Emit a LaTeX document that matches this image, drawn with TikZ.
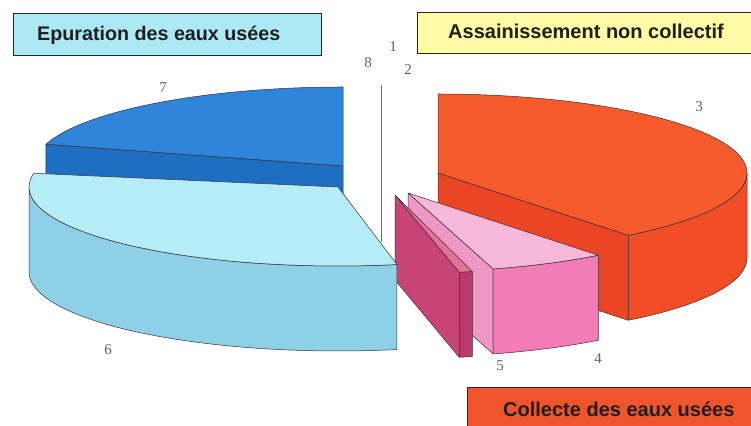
\documentclass[tikz,border=0pt]{standalone}
\usepackage{fontspec}
\setmainfont{Liberation Serif}
\newfontfamily\boxfont{Liberation Sans}
\usetikzlibrary{calc}
\definecolor{bSevTop}{RGB}{46,134,218}
\definecolor{bSevSide}{RGB}{30,110,194}
\definecolor{bSixTop}{RGB}{180,237,245}
\definecolor{bSixSide}{RGB}{142,208,230}
\definecolor{rTop}{RGB}{247,91,44}
\definecolor{rRad}{RGB}{234,70,38}
\definecolor{rOut}{RGB}{241,78,40}
\definecolor{pTop}{RGB}{245,184,217}
\definecolor{pRad}{RGB}{240,152,197}
\definecolor{pOut}{RGB}{241,124,182}
\definecolor{mRad}{RGB}{198,68,120}
\definecolor{mTop}{RGB}{228,114,152}
\definecolor{mOut}{RGB}{186,58,108}
\definecolor{boxBlue}{RGB}{172,233,244}
\definecolor{boxYellow}{RGB}{255,250,165}
\definecolor{boxRed}{RGB}{240,84,44}
\definecolor{edgeC}{RGB}{60,45,50}
\tikzset{
  face/.style={draw=edgeC, line width=0.5pt, line join=round},
  lbox/.style={draw=black!85, line width=1.1pt, rectangle, inner sep=0pt},
  boxtxt/.style={font=\boxfont\bfseries\fontsize{20}{22}\selectfont, text=black!88, inner sep=0pt},
  boxtxtsmall/.style={font=\boxfont\bfseries\fontsize{19.7}{22}\selectfont, text=black!88, inner sep=0pt},
  num/.style={font=\fontsize{15}{18}\selectfont, text=black!62, inner sep=0pt},
  el/.style={x radius=309, y radius=79}
}
\begin{document}
\begin{tikzpicture}[x=1pt,y=1pt]
\useasboundingbox (0,0) rectangle (751,425);
\clip (0,0) rectangle (751,425);
\fill[white] (0,0) rectangle (751,425);

% centres (apex of each slice, top face)
\coordinate (C7) at (343,259);
\coordinate (C6) at (338,238);
\coordinate (C3) at (438,252);
\coordinate (C4) at (408,232);
\coordinate (C5) at (395,230);

% ---- slice 7 (dark blue)
\filldraw[face, fill=bSevSide] (C7) -- ++(164:309 and 79) -- ++(0,-85) -- ($(C7)+(0,-85)$) -- cycle;
\filldraw[face, fill=bSevTop] (C7) -- ++(90:309 and 79) arc[start angle=90, end angle=164, el] -- cycle;

% ---- vertical line (slices 8, 1)
\coordinate (L1) at (381,340);
\coordinate (L2) at (381,183);
\draw[black!55, line width=0.6pt] (L1) -- (L2);

% ---- slice 3 (red)
\filldraw[face, fill=rRad] (C3) -- ++(-52:309 and 79) -- ++(0,-85) -- ($(C3)+(0,-85)$) -- cycle;
\filldraw[face, fill=rOut] (C3) ++(-52:309 and 79) arc[start angle=-52, end angle=0, el] -- ++(0,-85) arc[start angle=0, end angle=-52, el] -- cycle;
\filldraw[face, fill=rTop] (C3) -- ++(-52:309 and 79) arc[start angle=-52, end angle=90, el] -- cycle;

% ---- slice 4 (pink)
\filldraw[face, fill=pRad] (C4) -- ++(-74:309 and 79) -- ++(0,-85) -- ($(C4)+(0,-85)$) -- cycle;
\filldraw[face, fill=pOut] (C4) ++(-74:309 and 79) arc[start angle=-74, end angle=-52, el] -- ++(0,-85) arc[start angle=-52, end angle=-74, el] -- cycle;
\filldraw[face, fill=pTop] (C4) -- ++(-74:309 and 79) arc[start angle=-74, end angle=-52, el] -- cycle;

% ---- slice 5 (magenta)
\filldraw[face, fill=mRad] (C5) -- ++(-78:309 and 79) -- ++(0,-85) -- ($(C5)+(0,-85)$) -- cycle;
\filldraw[face, fill=mOut] (C5) ++(-78:309 and 79) arc[start angle=-78, end angle=-75.5, el] -- ++(0,-85) arc[start angle=-75.5, end angle=-78, el] -- cycle;
\filldraw[face, fill=mTop] (C5) -- ++(-78:309 and 79) arc[start angle=-78, end angle=-75.5, el] -- cycle;

% ---- slice 6 (light blue)
\filldraw[face, fill=bSixSide] (C6) ++(180:309 and 79) arc[start angle=180, end angle=281, el] -- ++(0,-85) arc[start angle=281, end angle=180, el] -- cycle;
\filldraw[face, fill=bSixTop] (C6) -- ++(170:309 and 79) arc[start angle=170, end angle=281, el] -- cycle;

% ---- boxes
\node[lbox, fill=boxBlue, minimum width=308pt, minimum height=42pt, anchor=north west] (b1) at (13,412) {};
\node[boxtxtsmall, anchor=base west] (t1) at (37,384) {Epuration des eaux usées};
\node[lbox, fill=boxYellow, minimum width=343pt, minimum height=41pt, anchor=north west] (b2) at (417,413) {};
\node[boxtxt, anchor=base west] (t2) at (448,386) {Assainissement non collectif};
\node[lbox, fill=boxRed, minimum width=293pt, minimum height=45pt, anchor=north west] (b3) at (467,38) {};
\node[boxtxt, anchor=base west] (t3) at (503,9) {Collecte des eaux usées};

% ---- labels
\node[num] (n7) at (163,337) {7};
\node[num] (n8) at (368,362) {8};
\node[num] (n1) at (393,378) {1};
\node[num] (n2) at (408,355) {2};
\node[num] (n3) at (699,318) {3};
\node[num] (n6) at (108,75) {6};
\node[num] (n5) at (500,59) {5};
\node[num] (n4) at (598,66) {4};
\end{tikzpicture}
\end{document}
